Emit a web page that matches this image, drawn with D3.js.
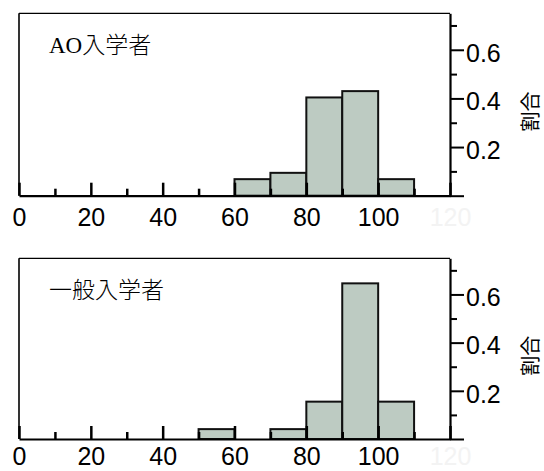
<!DOCTYPE html>
<html>
<head>
<meta charset="utf-8">
<script src="https://cdn.jsdelivr.net/npm/d3@7"></script>
<style>
  html, body { margin: 0; padding: 0; background: #ffffff; }
  svg { display: block; }
</style>
</head>
<body>
<svg id="chart" width="544" height="471"></svg>
<script>
// ---- data ----
const binStarts = [50, 60, 70, 80, 90, 100];
const binWidth = 10;
const aoValues = [0, 0.068, 0.094, 0.404, 0.430, 0.068];
const ippanValues = [0.041, 0, 0.041, 0.155, 0.646, 0.155];
const panelTitles = ["AO入学者", "一般入学者"];
const xMajorTicks = [0, 20, 40, 60, 80, 100, 120];
const xMinorTicks = [10, 30, 50, 70, 90, 110];
const yMajorTicks = [0, 0.2, 0.4, 0.6];
const yMinorTicks = [0.1, 0.3, 0.5, 0.7];
const yAxisTitle = "割合";

// ---- layout ----
const svg = d3.select("#chart");
const x = d3.scaleLinear().domain([0, 120]).range([19, 450]);
const panelLayout = [
  { top: 13.3, bottom: 195.7, labelPad: 12.5 },
  { top: 258.3, bottom: 439, labelPad: 8.5 }
];
const seriesList = [aoValues, ippanValues];
const fontLatin = "'Liberation Sans', Arial, sans-serif";
const fillColor = "#bdcbc2";

panelLayout.forEach((p, i) => {
  const vals = seriesList[i];
  const y = d3.scaleLinear().domain([0, 0.75]).range([p.bottom, p.top]);
  const g = svg.append("g");

  // box: top and left
  g.append("line")
    .attr("x1", x(0)).attr("x2", x(120))
    .attr("y1", y(0.75)).attr("y2", y(0.75))
    .attr("stroke", "#000").attr("stroke-width", 1.3);
  g.append("line")
    .attr("x1", x(0)).attr("x2", x(0))
    .attr("y1", y(0.75)).attr("y2", y(0))
    .attr("stroke", "#000").attr("stroke-width", 1.6);

  // bars
  const bins = binStarts.map((s, k) => ({ start: s, value: vals[k] })).filter(d => d.value > 0);
  g.selectAll("rect.bar").data(bins).enter().append("rect")
    .attr("class", "bar")
    .attr("x", d => x(d.start))
    .attr("width", d => x(d.start + binWidth) - x(d.start))
    .attr("y", d => y(d.value))
    .attr("height", d => y(0) - y(d.value))
    .attr("fill", fillColor)
    .attr("stroke", "#111")
    .attr("stroke-width", 2);

  // x axis major
  const xAxisMajor = d3.axisBottom(x).tickValues(xMajorTicks)
    .tickSize(-13).tickSizeOuter(0).tickPadding(p.labelPad)
    .tickFormat(d3.format("d"));
  const gx = g.append("g").attr("transform", `translate(0,${y(0)})`).call(xAxisMajor);
  gx.select(".domain").attr("stroke-width", 2.2).attr("stroke", "#000");
  gx.selectAll(".tick line").attr("stroke-width", 2.5).attr("stroke", "#000");
  gx.selectAll(".tick text")
    .attr("font-family", fontLatin).attr("font-size", 25)
    .attr("fill", d => d === 120 ? "#f3f3f3" : "#000");

  // x axis minor
  const xAxisMinor = d3.axisBottom(x).tickValues(xMinorTicks)
    .tickSize(-7).tickSizeOuter(0).tickFormat("");
  const gxm = g.append("g").attr("transform", `translate(0,${y(0)})`).call(xAxisMinor);
  gxm.select(".domain").remove();
  gxm.selectAll(".tick line").attr("stroke-width", 2.5).attr("stroke", "#000");

  // right y axis major
  const yAxisMajor = d3.axisRight(y).tickValues(yMajorTicks)
    .tickSize(14).tickSizeOuter(0).tickPadding(2)
    .tickFormat(d => d === 0 ? "" : d3.format(".1f")(d));
  const gy = g.append("g").attr("transform", `translate(${x(120)},0)`).call(yAxisMajor);
  gy.select(".domain").attr("stroke-width", 2.2).attr("stroke", "#000");
  gy.selectAll(".tick line").attr("stroke-width", 2).attr("stroke", "#000");
  gy.selectAll(".tick text")
    .attr("font-family", fontLatin).attr("font-size", 25)
    .attr("dy", "0.45em").attr("fill", "#000");

  // right y axis minor
  const yAxisMinor = d3.axisRight(y).tickValues(yMinorTicks)
    .tickSize(7).tickSizeOuter(0).tickFormat("");
  const gym = g.append("g").attr("transform", `translate(${x(120)},0)`).call(yAxisMinor);
  gym.select(".domain").remove();
  gym.selectAll(".tick line").attr("stroke-width", 2).attr("stroke", "#000");

  // y axis title
  const cy = (p.top + p.bottom) / 2 + 7;
  g.append("text")
    .attr("transform", `translate(529,${cy}) rotate(-90)`)
    .attr("text-anchor", "middle")
    .attr("dominant-baseline", "central")
    .attr("font-family", "'Noto Sans CJK JP', sans-serif")
    .attr("font-size", 20)
    .attr("fill", "#000")
    .text(yAxisTitle);

  // panel title
  g.append("text")
    .attr("x", 49)
    .attr("y", p.top + 40)
    .attr("font-family", "'Liberation Serif', 'Noto Sans CJK JP', serif")
    .attr("font-size", 23)
    .attr("font-weight", 300)
    .attr("fill", "#000")
    .text(panelTitles[i]);
});
</script>
</body>
</html>
